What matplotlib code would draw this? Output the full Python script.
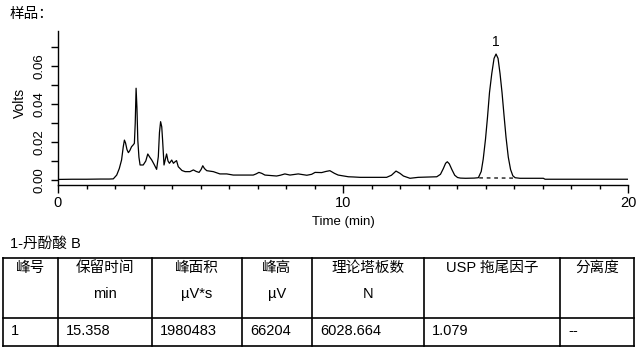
import matplotlib
matplotlib.use("Agg")
import matplotlib.pyplot as plt
from matplotlib.ticker import MultipleLocator, FixedLocator, FixedFormatter

plt.rcParams['font.family'] = ['Liberation Sans', 'Noto Sans CJK SC', 'DejaVu Sans']

# ---------------- data ----------------
time_min = [0.00, 0.50, 1.00, 1.50, 1.80, 1.94, 2.06, 2.15, 2.23, 2.29, 2.33, 2.37,
            2.42, 2.47, 2.52, 2.58, 2.64, 2.68, 2.71, 2.74, 2.77, 2.80, 2.84, 2.88,
            2.99, 3.08, 3.15, 3.22, 3.29, 3.38, 3.46, 3.52, 3.56, 3.60, 3.64, 3.67,
            3.72, 3.81, 3.86, 3.91, 3.99, 4.05, 4.10, 4.16, 4.22, 4.35, 4.46, 4.63,
            4.75, 4.85, 4.95, 5.02, 5.08, 5.14, 5.22, 5.45, 5.68, 5.92, 6.15, 6.85,
            6.95, 7.05, 7.15, 7.26, 7.67, 7.80, 7.96, 8.14, 8.43, 8.73, 8.90, 9.02,
            9.25, 9.40, 9.54, 9.70, 9.83, 10.19, 10.36, 10.60, 11.53, 11.70, 11.86,
            12.00, 12.12, 12.35, 12.64, 13.29, 13.42, 13.52, 13.60, 13.66, 13.73,
            13.82, 13.92, 14.02, 14.12, 14.30, 14.60, 14.75, 14.85, 14.92, 15.00,
            15.07, 15.14, 15.22, 15.30, 15.37, 15.44, 15.51, 15.58, 15.65, 15.72,
            15.80, 15.88, 15.96, 16.04, 16.21, 17.03, 17.09, 20.00]
signal_v = [0.0003, 0.0004, 0.0004, 0.0005, 0.0005, 0.0006, 0.0026, 0.0060, 0.0105, 0.0175, 0.0210, 0.0195,
            0.0160, 0.0144, 0.0155, 0.0175, 0.0185, 0.0193, 0.0300, 0.0483, 0.0380, 0.0210, 0.0120, 0.0079,
            0.0079, 0.0100, 0.0137, 0.0120, 0.0105, 0.0080, 0.0056, 0.0123, 0.0250, 0.0307, 0.0280, 0.0210,
            0.0079, 0.0137, 0.0100, 0.0088, 0.0105, 0.0088, 0.0095, 0.0102, 0.0070, 0.0050, 0.0044, 0.0044,
            0.0053, 0.0045, 0.0040, 0.0055, 0.0075, 0.0060, 0.0049, 0.0044, 0.0032, 0.0032, 0.0026, 0.0026,
            0.0032, 0.0040, 0.0035, 0.0026, 0.0021, 0.0025, 0.0032, 0.0026, 0.0032, 0.0025, 0.0030, 0.0040,
            0.0039, 0.0045, 0.0049, 0.0035, 0.0026, 0.0017, 0.0016, 0.0014, 0.0014, 0.0025, 0.0047,
            0.0035, 0.0021, 0.0009, 0.0014, 0.0017, 0.0030, 0.0060, 0.0088, 0.0096, 0.0085,
            0.0055, 0.0025, 0.0013, 0.0010, 0.0009, 0.0010, 0.0012, 0.0045, 0.0110, 0.0215,
            0.0330, 0.0460, 0.0560, 0.0640, 0.0663, 0.0640, 0.0560, 0.0460, 0.0340, 0.0225,
            0.0120, 0.0055, 0.0022, 0.0012, 0.0009, 0.0009, 0.0004, 0.0004]

baseline_t = [14.78, 16.05]
baseline_v = [0.0011, 0.0010]

peak_label = "1"
peak_time = 15.358
peak_height_v = 0.0663

xtick_major = [0, 10, 20]
ytick_major = [0.00, 0.02, 0.04, 0.06]
ytick_labels = ["0.00", "0.02", "0.04", "0.06"]

title_text = "样品："
compound_text = "1-丹酚酸 B"
table_headers = ["峰号", "保留时间", "峰面积", "峰高", "理论塔板数", "USP 拖尾因子", "分离度"]
table_units = ["", "min", "µV*s", "µV", "N", "", ""]
table_row = ["1", "15.358", "1980483", "66204", "6028.664", "1.079", "--"]

# ---------------- figure ----------------
W, H = 642, 362
fig = plt.figure(figsize=(W / 100, H / 100), dpi=100)

ax = fig.add_axes([58 / W, (H - 185) / H, 570 / W, (185 - 31) / H])
ax.plot(time_min, signal_v, color='black', lw=0.9)
ax.plot(baseline_t, baseline_v, color='black', lw=0.9, linestyle=(0, (3, 3)))
ax.annotate(peak_label, xy=(peak_time, peak_height_v), xytext=(0, 9),
            textcoords='offset points', ha='center', va='center', fontsize=10)

ax.set_xlim(0, 20)
ax.set_ylim(-5 / 1900, 149 / 1900)
for s in ('top', 'right'):
    ax.spines[s].set_visible(False)
for s in ('left', 'bottom'):
    ax.spines[s].set_linewidth(1.0)

ax.xaxis.set_major_locator(FixedLocator(xtick_major))
ax.xaxis.set_minor_locator(MultipleLocator(1))
ax.yaxis.set_major_locator(FixedLocator(ytick_major))
ax.yaxis.set_major_formatter(FixedFormatter(ytick_labels))
ax.yaxis.set_minor_locator(MultipleLocator(0.01))
ax.tick_params(axis='x', which='major', length=5.8, width=1.0, pad=2.0, labelsize=10.5)
ax.tick_params(axis='x', which='minor', length=2.6, width=1.0)
ax.tick_params(axis='y', which='both', length=5.0, width=1.0)
ax.tick_params(axis='y', which='major', pad=4, labelsize=9.5, labelrotation=90)
for lab in ax.get_yticklabels():
    lab.set_va('center')

fig.text(20 / W, 1 - 103 / H, "Volts", rotation=90, ha='center', va='center', fontsize=10)
fig.text(343 / W, 1 - 222 / H, "Time (min)", ha='center', va='center', fontsize=9.5)

# ---------------- overlay for texts & table ----------------
ov = fig.add_axes([0, 0, 1, 1], zorder=-1)
ov.set_xlim(0, W)
ov.set_ylim(H, 0)
ov.axis('off')

ov.text(10, 14, title_text, ha='left', va='center', fontsize=10.5,
        family=['Noto Sans CJK SC', 'Liberation Sans'])
ov.text(10, 244, compound_text, ha='left', va='center', fontsize=10.5)

col_edges = [3, 58, 152, 242, 312, 424, 560, 634]
top_y, mid_y, bot_y = 258, 318, 346
lw_tab = 1.2
for yy in (top_y, mid_y, bot_y):
    ov.plot([col_edges[0], col_edges[-1]], [yy, yy], color='black', lw=lw_tab,
            solid_capstyle='projecting')
for xx in col_edges:
    ov.plot([xx, xx], [top_y, bot_y], color='black', lw=lw_tab, solid_capstyle='projecting')

for i, (hdr, unit, val) in enumerate(zip(table_headers, table_units, table_row)):
    cx = (col_edges[i] + col_edges[i + 1]) / 2
    ov.text(cx, 268, hdr, ha='center', va='center', fontsize=10.5)
    if unit:
        ov.text(cx, 294, unit, ha='center', va='center', fontsize=10.5)
    ov.text(col_edges[i] + 8, 331, val, ha='left', va='center', fontsize=10.5)

fig.savefig("out.png", dpi=100)
